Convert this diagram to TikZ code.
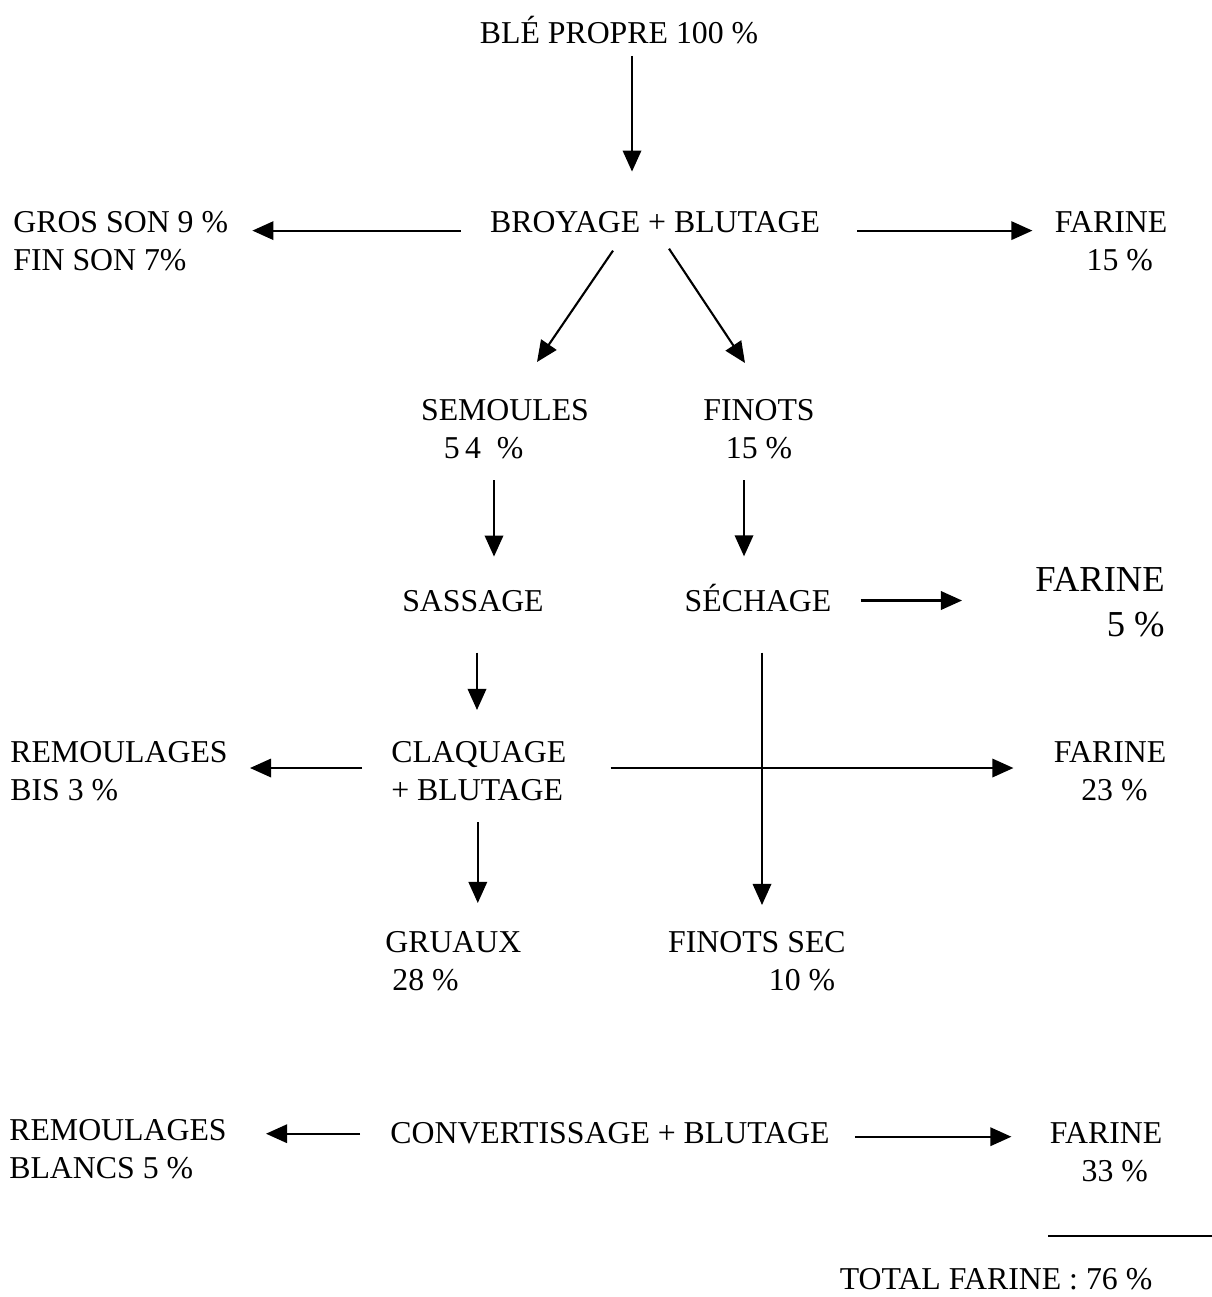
\documentclass[tikz,border=0pt]{standalone}
\usepackage{fontspec}
\setmainfont{Liberation Serif}
\usetikzlibrary{arrows.meta}
\tikzstyle{stage} = [inner sep=0pt, font=\fontsize{18.1}{21.6}\selectfont]
\tikzstyle{arrow} = [line width=1.2pt, -{Triangle[length=12pt,width=10.5pt]}]

\begin{document}
\begin{tikzpicture}[x=0.02cm, y=-0.02cm]
        \useasboundingbox (0,0) rectangle (1212,1297);

        %Broyage
        \node (ble) [stage, anchor=base] at (619,44) {BLÉ PROPRE 100~\%};
        \node (broyage) [stage, anchor=base] at (655,233) {BROYAGE + BLUTAGE};
        \node (son) [stage, anchor=north west, align=left] at (13,211) {GROS SON 9~\%\\FIN SON 7\%};
        \node (farine1) [stage, anchor=north, align=center] at (1111,211) {FARINE\\\hspace*{10pt}15~\%};

        %Semoules and finots
        \node (semoules) [stage, anchor=north, align=left] at (505,399) {SEMOULES\\\hspace*{13pt}5\,4\enspace\%};
        \node (finots) [stage, anchor=north, align=center] at (759,399) {FINOTS\\15~\%};
        \node (sassage) [stage, anchor=base] at (473,611) {SASSAGE};
        \node (sechage) [stage, anchor=base] at (758,611) {SÉCHAGE};
        \node (farine2) [stage, anchor=north east, align=right, font=\fontsize{20.8}{25.6}\selectfont] at (1165,567) {FARINE\\5~\%};

        %Claquage
        \node (claquage) [stage, anchor=north west, align=left] at (391,741) {CLAQUAGE\\+ BLUTAGE};
        \node (bis) [stage, anchor=north west, align=left] at (10,741) {REMOULAGES\\BIS 3~\%};
        \node (farine3) [stage, anchor=north, align=center] at (1110,741) {FARINE\\\hspace*{5pt}23~\%};
        \node (gruaux) [stage, anchor=north west, align=left] at (385,931) {GRUAUX\\\hspace*{4pt}28~\%};
        \node (finotssec) [stage, anchor=north east, align=right] at (846,931) {FINOTS SEC\\10~\%\hspace*{6pt}};

        %Convertissage
        \node (convert) [stage, anchor=base] at (610,1143) {CONVERTISSAGE + BLUTAGE};
        \node (blancs) [stage, anchor=north west, align=left] at (9,1119) {REMOULAGES\\BLANCS 5~\%};
        \node (farine4) [stage, anchor=north, align=center] at (1106,1122) {FARINE\\\hspace*{10pt}33~\%};
        \node (total) [stage, anchor=base] at (996,1289) {TOTAL FARINE : 76~\%};
        \draw [line width=1.1pt] (1048,1236) -- (1212,1236);

        %Arrows from broyage
        \draw [arrow] ([shift={(13,11)}]ble.south) -- ([shift={(13,-40)}]ble.south |- broyage.north);
        \draw [arrow] ([shift={(-29,8)}]broyage.west) -- ([shift={(24,8)}]broyage.west -| son.east);
        \draw [arrow] ([shift={(37,8)}]broyage.east) -- ([shift={(-22,8)}]broyage.east -| farine1.west);
        \draw [arrow] ([shift={(-42,17)}]broyage.south) -- ([shift={(32,-37)}]semoules.north);
        \draw [arrow] ([shift={(14,15)}]broyage.south) -- ([shift={(-14,-36)}]finots.north);

        %Arrows to sassage and sechage
        \draw [arrow] ([shift={(-11,21)}]semoules.south) -- ([shift={(-11,-33)}]semoules.south |- sassage.north);
        \draw [arrow] ([shift={(-15,21)}]finots.south) -- ([shift={(-15,-27)}]finots.south |- sechage.north);
        \draw [arrow] ([shift={(29,3)}]sechage.east) -- ([shift={(-73,3)}]sechage.east -| farine2.west);
        \draw [arrow] ([shift={(4,41)}]sassage.south) -- ([shift={(4,-31)}]sassage.south |- claquage.north);
        \draw [arrow] ([shift={(4,41)}]sechage.south) -- ([shift={(4,-26)}]sechage.south |- finotssec.north);

        %Arrows from claquage
        \draw [arrow] ([shift={(-29,-3)}]claquage.west) -- ([shift={(22,-3)}]claquage.west -| bis.east);
        \draw [arrow] ([shift={(44,-3)}]claquage.east) -- ([shift={(-40,-3)}]claquage.east -| farine3.west);
        \draw [arrow] ([shift={(-1,21)}]claquage.south) -- ([shift={(-1,-28)}]claquage.south |- gruaux.north);

        %Arrows from convertissage
        \draw [arrow] ([shift={(-30,1)}]convert.west) -- ([shift={(39,1)}]convert.west -| blancs.east);
        \draw [arrow] ([shift={(25,4)}]convert.east) -- ([shift={(-38,4)}]convert.east -| farine4.west);

\end{tikzpicture}
\end{document}
